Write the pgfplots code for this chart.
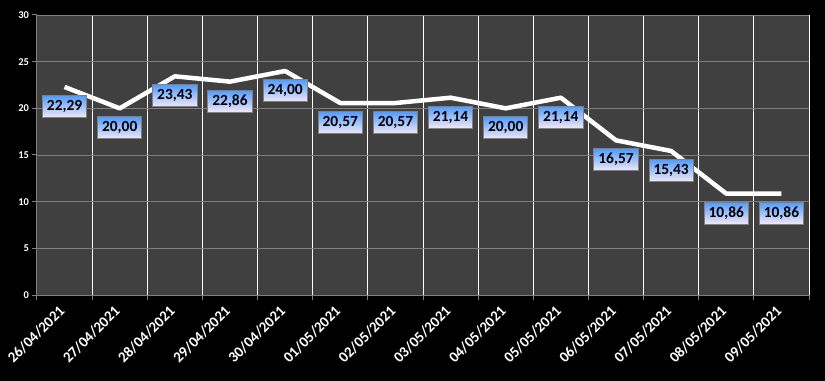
\documentclass[border=0pt]{standalone}
\usepackage{fontspec}
\setmainfont{Carlito}
\usepackage{pgfplots}
\pgfplotsset{compat=1.18}
\usetikzlibrary{shadings}
\definecolor{plotbg}{HTML}{404040}
\definecolor{gridgray}{HTML}{808080}
\definecolor{boxtop}{HTML}{4E9BFF}
\definecolor{boxbot}{HTML}{F3E8F6}
\begin{document}
\begin{tikzpicture}
\path[use as bounding box, fill=black] (-37bp,-86bp) rectangle (788bp,295bp);
\begin{axis}[
  at={(0,0)}, anchor=south west,
  scale only axis, width=772bp, height=280bp,
  xmin=-0.5, xmax=13.5, ymin=0, ymax=30,
  axis background/.style={fill=plotbg},
  axis x line*=bottom, axis y line*=left,
  axis line style={gridgray, line width=1bp, -},
  xtick={-0.5,0.5,...,13.5}, xticklabels={},
  xmajorgrids, major x grid style={white, line width=1bp},
  ytick={0,5,...,30}, ymajorgrids, major y grid style={gridgray, line width=0.8bp},
  tick align=outside, major tick length=4.5bp,
  tick style={gridgray, line width=1bp},
  yticklabel style={text=white, font=\bfseries\fontsize{10.5}{12}\selectfont},
  xticklabel style={rotate=45, anchor=east, text=white, font=\bfseries\fontsize{15}{17}\selectfont},
  xticklabel shift=11bp,
  /pgf/number format/assume math mode=true,
  extra x ticks={0,...,13},
  extra x tick labels={26/04/2021,27/04/2021,28/04/2021,29/04/2021,30/04/2021,01/05/2021,02/05/2021,03/05/2021,04/05/2021,05/05/2021,06/05/2021,07/05/2021,08/05/2021,09/05/2021},
  extra x tick style={grid=none, major tick length=0pt},
  clip=false,
]
\addplot[white, line width=4.5bp, line join=round,
  nodes near coords={\pgfmathprintnumber[fixed,fixed zerofill,precision=2,use comma]{\pgfplotspointmeta}},
  every node near coord/.append style={anchor=north, yshift=-8bp, draw=gridgray, line width=0.8bp,
    top color=boxtop, bottom color=boxbot, text=black,
    font=\bfseries\fontsize{15.5}{17}\selectfont, inner xsep=4.5bp, minimum height=22bp}
] coordinates {
(0,22.29) (1,20.00) (2,23.43) (3,22.86) (4,24.00) (5,20.57) (6,20.57)
(7,21.14) (8,20.00) (9,21.14) (10,16.57) (11,15.43) (12,10.86) (13,10.86)
};
\end{axis}
\end{tikzpicture}
\end{document}
